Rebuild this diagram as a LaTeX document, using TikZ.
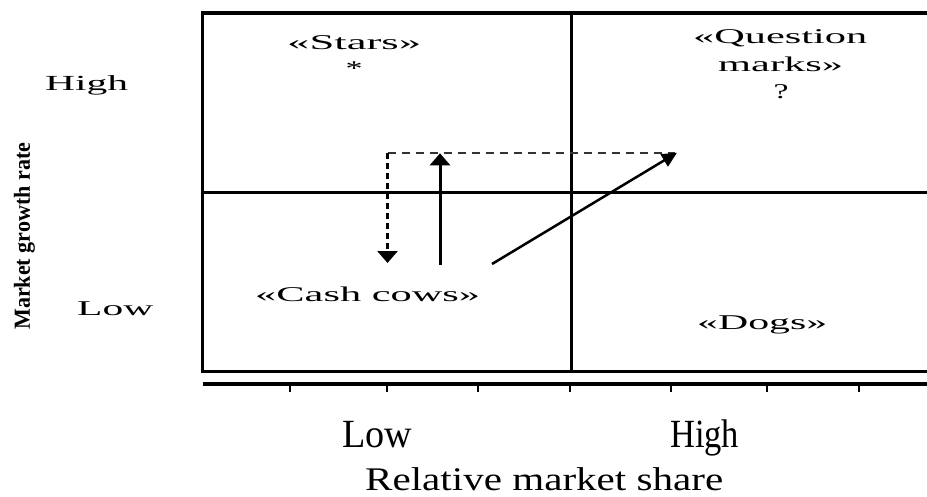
\documentclass[tikz,border=0pt]{standalone}
\usepackage{fontspec}
\setmainfont{Liberation Serif}
\usetikzlibrary{arrows.meta}
\newcommand\fitw[3]{\resizebox{#2pt}{\height}{\fontsize{#1}{#1}\selectfont #3}}
\begin{document}
\begin{tikzpicture}[x=1pt,y=-1pt,
  lbl/.style={inner sep=0pt, anchor=base west},
  lblc/.style={inner sep=0pt, anchor=base},
  frame/.style={line width=3.2pt, line join=miter},
  divider/.style={line width=3pt},
  axisline/.style={line width=3.5pt},
  tick/.style={line width=2.5pt},
  bigtip/.style={-{Triangle[length=12pt,width=20pt]}},
  thindash/.style={line width=1.3pt, dash pattern=on 8pt off 6pt, black!80},
  thickdash/.style={line width=2.7pt, dash pattern=on 6pt off 4pt},
  solidarrow/.style={line width=3pt},
  diagarrow/.style={line width=2.5pt, -{Triangle[length=15pt,width=14pt]}}]
\useasboundingbox (0,0) rectangle (927,496);
\fill[white] (0,0) rectangle (927,496);

% frame and dividers
\draw[frame] (927,13) -- (202.5,13) -- (202.5,371.5) -- (927,371.5);
\draw[divider] (571,13) -- (571,371.5);
\draw[divider] (202.5,192.5) -- (927,192.5);

% axis
\draw[axisline] (203,384) -- (927,384);
\foreach \x in {290,387,478,570,671,767,859}
  \draw[tick] (\x,384) -- (\x,392);

% left labels
\node[lbl] (hi) at (45,90) {\fitw{21.5}{83}{High}};
\node[lbl] (lo) at (77,315) {\fitw{21}{76}{Low}};
\node[lbl, rotate=90] (mgr) at (30,330) {\fitw{23}{187}{\bfseries Market growth rate}};

% quadrant labels
\node[lbl] (stars) at (287,49) {\fitw{21}{134}{«Stars»}};
\node[lblc] (star) at (354,75.5) {\fitw{21}{17}{*}};
\node[lbl] (q1) at (693,43) {\fitw{21}{174}{«Question}};
\node[lbl] (q2) at (718,71) {\fitw{21}{125}{marks»}};
\node[lblc] (q3) at (781,98) {\fitw{21}{15}{?}};
\node[lbl] (cash) at (255,301) {\fitw{21}{225}{«Cash cows»}};
\node[lbl] (dogs) at (697,329) {\fitw{21}{130}{«Dogs»}};

% bottom labels
\node[lbl] (blo) at (342,447) {\fitw{40}{70}{Low}};
\node[lbl] (bhi) at (670,447) {\fitw{40}{69}{High}};
\node[lbl] (rms) at (365,490) {\fitw{33}{358}{Relative market share}};

% arrows
\coordinate (dA) at (387.5,153);
\coordinate (dB) at (675,153);
\coordinate (dC) at (387.5,263);
\coordinate (uA) at (440,265);
\coordinate (uB) at (440,153.3);
\coordinate (gA) at (492,264);
\coordinate (gB) at (677,152.7);
\draw[thindash] (dA) -- (dB);
\draw[thickdash, bigtip] (dA) -- (dC);
\draw[solidarrow, bigtip] (uA) -- (uB);
\draw[diagarrow] (gA) -- (gB);
\end{tikzpicture}
\end{document}
